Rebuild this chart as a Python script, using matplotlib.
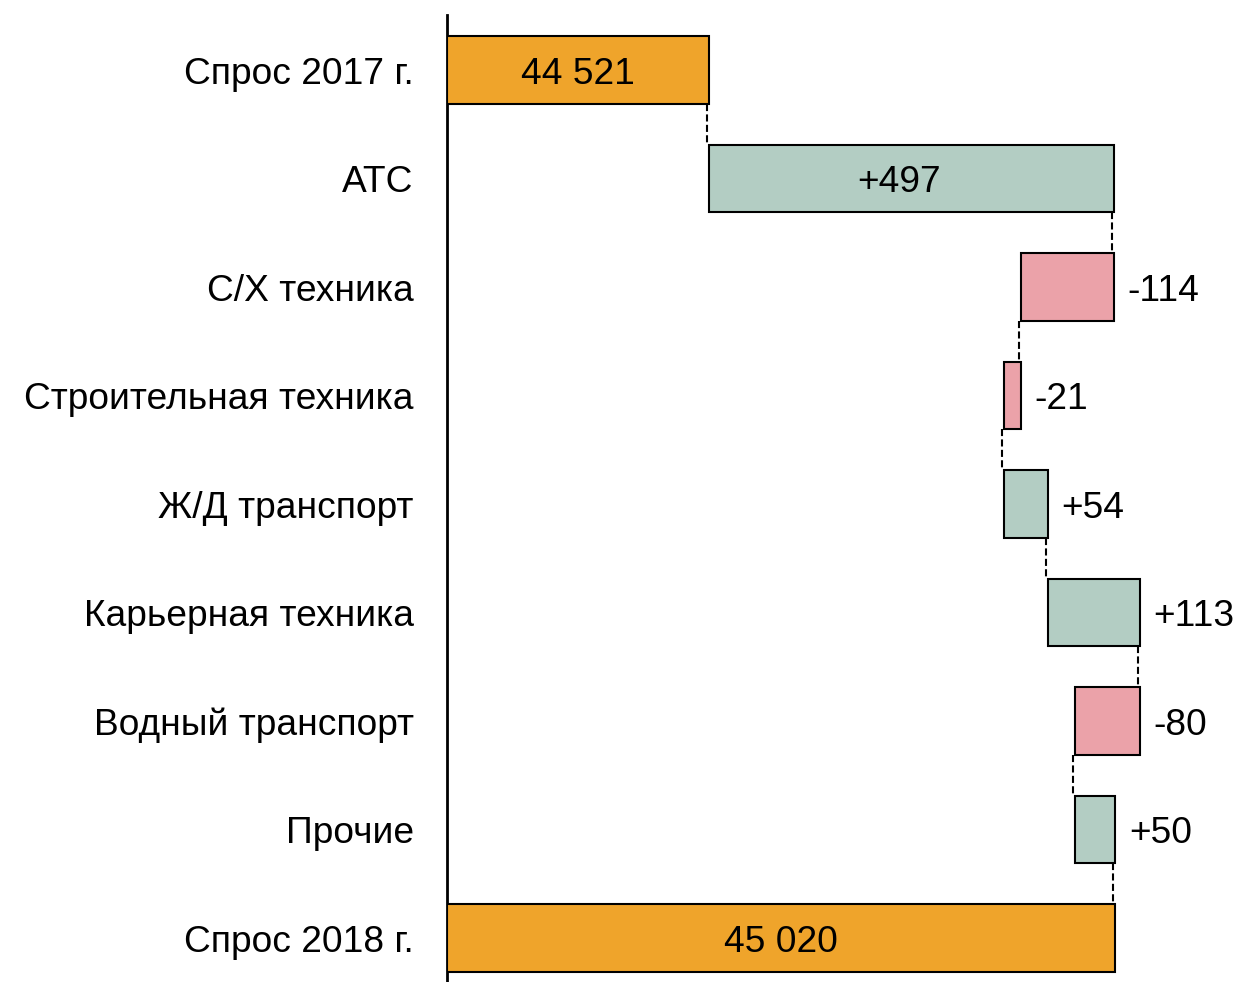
import matplotlib
matplotlib.use("Agg")
import matplotlib.pyplot as plt
import matplotlib.transforms as mtransforms

categories = ["Спрос 2017 г.", "АТС", "С/Х техника", "Строительная техника",
              "Ж/Д транспорт", "Карьерная техника", "Водный транспорт", "Прочие",
              "Спрос 2018 г."]
start_value = 44521
changes = [497, -114, -21, 54, 113, -80, 50]
end_value = 45020
label_texts = ["44 521", "+497", "-114", "-21", "+54", "+113", "-80", "+50", "45 020"]

C_TOTAL = "#EFA42B"
C_POS = "#B3CDC3"
C_NEG = "#EBA2A9"

plt.rcParams['font.family'] = ['Liberation Sans', 'DejaVu Sans']
FS = 26.7

fig = plt.figure(figsize=(12.4, 9.82), dpi=100)
ax = fig.add_axes([447/1240, 0, 1 - 447/1240, 1 - 15/982])

bar_h = 0.62
lefts, widths, colors = [], [], []
lefts.append(44200)
widths.append(start_value - 44200)
colors.append(C_TOTAL)
running = start_value
ends = [start_value]
for c in changes:
    new = running + c
    lefts.append(min(running, new))
    widths.append(abs(c))
    colors.append(C_POS if c > 0 else C_NEG)
    running = new
    ends.append(running)
lefts.append(44200)
widths.append(end_value - 44200)
colors.append(C_TOTAL)
ends.append(end_value)

ys = list(range(len(categories)))
ax.barh(ys, widths, left=lefts, height=bar_h, color=colors,
        edgecolor="black", linewidth=1.5, zorder=3)

# connectors
off = mtransforms.offset_copy(ax.transData, fig=fig, x=-2, y=0, units='dots')
for i in range(len(categories) - 1):
    x = ends[i]
    ax.plot([x, x], [i + bar_h/2, i + 1 - bar_h/2], color="black",
            linestyle=(0, (3.4, 1.6)), linewidth=1.5, transform=off, zorder=2)

# labels
n = len(categories)
for i, txt in enumerate(label_texts):
    if i in (0, 1, n - 1):
        dx = -9 if i == 1 else 0
        ax.annotate(txt, (lefts[i] + widths[i] / 2, i), xytext=(dx, 0),
                    textcoords="offset points", ha="center", va="center_baseline",
                    fontsize=FS, color="black", zorder=4)
    else:
        ax.annotate(txt, (lefts[i] + widths[i], i), xytext=(10, 0),
                    textcoords="offset points", ha="left", va="center_baseline",
                    fontsize=FS, color="black")

ax.set_xlim(44200, 45173)
ax.set_ylim(8.405, -0.507)
ax.set_yticks(ys)
ax.set_yticklabels(categories, fontsize=FS, va="center_baseline")
ax.tick_params(axis="y", length=0, pad=24)
ax.set_xticks([])
for s in ["top", "right", "bottom"]:
    ax.spines[s].set_visible(False)
ax.spines["left"].set_linewidth(2)

fig.savefig("out.png", dpi=100)
